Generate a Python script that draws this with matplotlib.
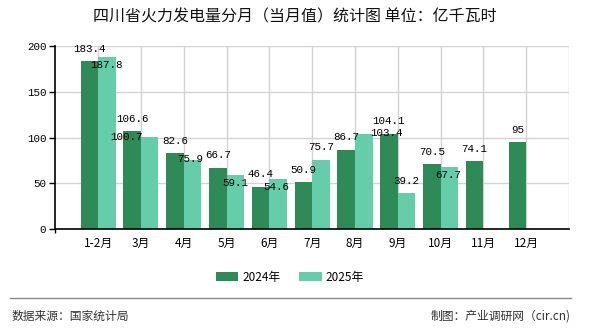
import matplotlib
matplotlib.use("Agg")
import matplotlib.pyplot as plt
import numpy as np

plt.rcParams['font.family'] = ['Noto Sans CJK SC', 'DejaVu Sans']

# data
months = ["1-2月", "3月", "4月", "5月", "6月", "7月", "8月", "9月", "10月", "11月", "12月"]
vals_2024 = [183.4, 106.6, 82.6, 66.7, 46.4, 50.9, 86.7, 104.1, 70.5, 74.1, 95]
vals_2025 = [187.8, 100.7, 75.9, 59.1, 54.6, 75.7, 103.4, 39.2, 67.7]
series_names = ["2024年", "2025年"]

# label nudges (pixels) for the 2025 labels, the way the original placed them
off_2025 = [(0, -8), (-23, 0), (-2, 1), (0, -8), (-2, -8), (0, 13), (23, 1), (0, 12), (-1, -8)]

c24 = "#2e8b57"
c25 = "#66cdaa"
w = 0.41
px = 0.72  # px -> pt at dpi 100
numfont = dict(family="Liberation Mono", size=7.8)

fig = plt.figure(figsize=(5.9, 3.3), dpi=100)
ax = fig.add_axes([55.3 / 590, 1 - 229 / 330, (569 - 55.3) / 590, (229 - 46) / 330])

x24 = np.arange(len(vals_2024))
x25 = np.arange(len(vals_2025))
b1 = ax.bar(x24 - w / 2, vals_2024, width=w, color=c24, label=series_names[0], zorder=2)
b2 = ax.bar(x25 + w / 2, vals_2025, width=w, color=c25, label=series_names[1], zorder=2)

for xi, v in zip(x24, vals_2024):
    ax.annotate(f"{v:g}", (xi - w / 2, v), xytext=(0, 12.5 * px), textcoords="offset points",
                ha="center", va="center", color="black", zorder=3, **numfont)
for xi, v, (dx, dy) in zip(x25, vals_2025, off_2025):
    ax.annotate(f"{v:g}", (xi + w / 2, v), xytext=(dx * px, dy * px), textcoords="offset points",
                ha="center", va="center", color="black", zorder=3, **numfont)

ax.set_xlim(-1, len(months))
ax.set_ylim(0, 200)
ax.set_yticks([0, 50, 100, 150, 200])
ax.set_xticks(np.arange(len(months) + 1))
ax.set_xticklabels(months + [""])
ax.set_xticks([-1, len(months)], minor=True)
ax.tick_params(axis="x", which="major", length=0, pad=6, labelsize=8.5)
ax.tick_params(axis="x", which="minor", length=3, width=1, color="black")
ax.tick_params(axis="y", length=4.5, width=1, pad=2)
for t in ax.get_yticklabels():
    t.set_fontfamily(numfont["family"])
    t.set_fontsize(numfont["size"])

ax.grid(True, color="#d3d3d3", linewidth=1, zorder=0)
ax.set_axisbelow(True)
for s in ["top", "right"]:
    ax.spines[s].set_visible(False)
for s in ["left", "bottom"]:
    ax.spines[s].set_color("black")
    ax.spines[s].set_linewidth(1.2)

fig.text(294.5 / 590, 1 - 17 / 330, "四川省火力发电量分月（当月值）统计图 单位：亿千瓦时",
         ha="center", va="center", fontsize=11.5, color="#111111")

fig.legend(handles=[b1, b2], loc="center", bbox_to_anchor=(290 / 590, 1 - 277 / 330), ncol=2,
           frameon=False, fontsize=8.5, handlelength=1.9, handleheight=0.8,
           handletextpad=0.35, columnspacing=1.6, borderpad=0)

fig.add_artist(plt.Line2D([10 / 590, 571 / 590], [1 - 297.5 / 330] * 2, color="#888888", linewidth=1))
fig.text(12 / 590, 1 - 316 / 330, "数据来源：国家统计局", ha="left", va="center", fontsize=8.5, color="#333333")
fig.text(571 / 590, 1 - 316 / 330, "制图：产业调研网（cir.cn)", ha="right", va="center", fontsize=8.5, color="#333333")

fig.savefig("out.png", dpi=100)
